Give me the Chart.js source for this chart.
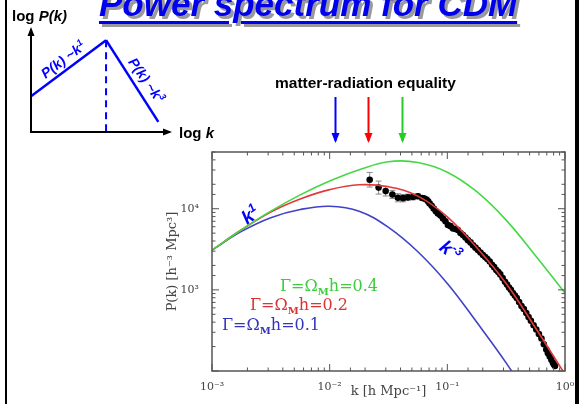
<!DOCTYPE html>
<html>
<head>
<meta charset="utf-8">
<script src="https://cdn.jsdelivr.net/npm/chart.js@4.4.1/dist/chart.umd.min.js"></script>
<style>
body { margin: 0; background: #fff; }
#wrap { position: relative; width: 582px; height: 404px; overflow: hidden; background: #fff; }
canvas { position: absolute; left: 0; top: 0; }
.lbl { position: absolute; white-space: nowrap; font-family: 'Liberation Sans', Arial, sans-serif; }
.frame { position: absolute; top: 0; height: 404px; background: #000; }
.gam { font-family: 'DejaVu Serif', serif; font-size: 16px; line-height: 16px; transform: translateY(-50%); }
.gam sub { font-size: 10px; font-weight: bold; vertical-align: -4px; }
</style>
</head>
<body>
<div id="wrap">
  <div class="frame" style="left:5px;width:2px"></div>
  <div class="frame" style="left:575px;width:4px"></div>
  <canvas id="main" width="582" height="404"></canvas>
  <canvas id="sketch" width="200" height="145"></canvas>

  <div class="lbl" style="left:99px;top:-13.6px;font-size:35px;line-height:35px;font-weight:bold;font-style:italic;color:#0000ee;text-decoration:underline;text-decoration-thickness:3px;text-underline-offset:5px;text-shadow:3px 3px 0 #9a9a9a">Power spectrum for CDM</div>
  <div class="lbl" style="left:12px;top:8px;font-size:15px;line-height:15px;font-weight:bold">log <i>P(k)</i></div>
  <div class="lbl" style="left:179px;top:125px;font-size:15px;line-height:15px;font-weight:bold">log <i>k</i></div>
  <div class="lbl" style="left:275px;top:75px;font-size:15.5px;line-height:15.5px;font-weight:bold">matter-radiation equality</div>
  <div class="lbl" style="left:62px;top:58px;font-size:14px;line-height:14px;font-weight:bold;font-style:italic;color:#0000ff;transform:translate(-50%,-50%) rotate(-37deg)">P(k) ~k<sup style="font-size:9px">1</sup></div>
  <div class="lbl" style="left:148px;top:79px;font-size:14px;line-height:14px;font-weight:bold;font-style:italic;color:#0000ff;transform:translate(-50%,-50%) rotate(55deg)">P(k) ~k<sup style="font-size:9px">3</sup></div>
  <div class="lbl" style="left:249px;top:213px;font-size:19px;line-height:19px;font-weight:bold;font-style:italic;color:#0000ff;transform:translate(-50%,-50%) rotate(-35deg)">k<sup style="font-size:12px">1</sup></div>
  <div class="lbl" style="left:452px;top:249px;font-size:19px;line-height:19px;font-weight:bold;font-style:italic;color:#0000ff;transform:translate(-50%,-50%) rotate(38deg)">k<sup style="font-size:12px">-3</sup></div>
  <div class="lbl gam" style="left:280px;top:289px;color:#3ccc3c">&Gamma;=&Omega;<sub>M</sub>h=0.4</div>
  <div class="lbl gam" style="left:250px;top:308px;color:#d83434">&Gamma;=&Omega;<sub>M</sub>h=0.2</div>
  <div class="lbl gam" style="left:222px;top:328px;color:#3434bb">&Gamma;=&Omega;<sub>M</sub>h=0.1</div>
</div>

<script>
// model curves at quarter-decade steps in k
var kGrid = [0.001, 0.00178, 0.00316, 0.00562, 0.01, 0.0178, 0.0316, 0.0562, 0.1, 0.178, 0.316, 0.562, 1.0];
var pGamma04 = [3090, 5500, 9330, 14800, 21900, 30200, 38000, 37150, 28200, 16200, 7240, 2630, 912];
var pGamma02 = [3090, 5500, 9120, 13180, 17180, 19720, 18620, 14290, 7940, 3310, 1200, 339, 91];
var pGamma01 = [3090, 5250, 7760, 9770, 10720, 9330, 5890, 2950, 1200, 398, 126, 35];

// measured points (black dots); the first ones carry error bars (dex)
var obsK = [0.02188, 0.02606, 0.02992, 0.03412, 0.03802, 0.04198, 0.04624, 0.05105, 0.05623, 0.06124,
            0.06637, 0.07079, 0.07656, 0.08318, 0.09183, 0.1012, 0.1117, 0.1230, 0.1358, 0.1496,
            0.1652, 0.1820, 0.2009, 0.2188, 0.2399, 0.2606, 0.2818, 0.3090, 0.3342, 0.3606,
            0.3890, 0.4266, 0.4688, 0.5129, 0.5702, 0.6310, 0.6934, 0.7413, 0.7889, 0.8222];
var obsP = [22750, 18200, 16480, 15000, 13650, 13490, 13800, 13960, 14220, 13580,
            12970, 11590, 10050, 8710, 7590, 6310, 5710, 5450, 4730, 4100,
            3550, 3090, 2690, 2400, 2040, 1760, 1550, 1260, 1070, 912,
            794, 631, 518, 417, 324, 251, 184, 151, 126, 115];
var obsErr = [0.09, 0.08, 0.06, 0.05, 0.05, 0.045, 0.04, 0.035, 0.03, 0.03, 0.025, 0.02, 0.02, 0.015];

// the denser run of points along the falling part
var obsK2 = [0.06383, 0.06871, 0.07362, 0.07980, 0.08750, 0.09638, 0.1064, 0.1175, 0.1294, 0.1426,
             0.1574, 0.1734, 0.1914, 0.2099, 0.2291, 0.2500, 0.2710, 0.2951, 0.3214, 0.3467,
             0.3750, 0.4074, 0.4467, 0.4898, 0.5408, 0.5998, 0.6607, 0.7161, 0.7656, 0.8054];
var obsP2 = [13340, 12300, 10840, 9330, 8222, 7000, 6095, 5623, 5012, 4416,
             3846, 3311, 2884, 2541, 2239, 1905, 1660, 1396, 1161, 1000,
             851, 708, 582, 462, 367, 285, 214, 166, 138, 120];

// matter-radiation equality arrows (blue, red, green)
var eqK = [0.011, 0.021, 0.041];
var eqColors = ['#0000ff', '#ff0000', '#22cc22'];

var xTickLabels = { '-3': '10\u207B\u00B3', '-2': '10\u207B\u00B2', '-1': '10\u207B\u00B9', '0': '10\u2070' };
var yTickLabels = { '3': '10\u00B3', '4': '10\u2074' };

// schematic in the upper left corner
var riseX = [0, 0.54], riseY = [0.35, 0.9];
var fallX = [0.54, 0.916], fallY = [0.9, 0.10];
var dashX = [0.54, 0.54], dashY = [0.9, 0];

function pts(xs, ys) {
    var out = [];
    for (var i = 0; i < ys.length; i++) out.push({ x: xs[i], y: ys[i] });
    return out;
}

function powLabel(map) {
    return function(v) {
        var e = Math.log10(v);
        var r = Math.round(e);
        if (Math.abs(e - r) < 1e-6 && map[String(r)]) return map[String(r)];
        return '';
    };
}

function arrow(ctx, x1, y1, x2, y2, head) {
    ctx.beginPath();
    ctx.moveTo(x1, y1);
    ctx.lineTo(x2, y2);
    ctx.stroke();
    var a = Math.atan2(y2 - y1, x2 - x1);
    ctx.beginPath();
    ctx.moveTo(x2 + Math.cos(a) * 2, y2 + Math.sin(a) * 2);
    ctx.lineTo(x2 - Math.cos(a) * head + Math.sin(a) * head * 0.5, y2 - Math.sin(a) * head - Math.cos(a) * head * 0.5);
    ctx.lineTo(x2 - Math.cos(a) * head - Math.sin(a) * head * 0.5, y2 - Math.sin(a) * head + Math.cos(a) * head * 0.5);
    ctx.closePath();
    ctx.fill();
}

var frameTicks = {
    id: 'frameTicks',
    beforeDatasetsDraw: function(chart) {
        // error bars under the dots
        var ctx = chart.ctx, xs = chart.scales.x, ys = chart.scales.y;
        ctx.save();
        ctx.strokeStyle = '#8a8a8a';
        ctx.lineWidth = 1;
        for (var i = 0; i < obsErr.length; i++) {
            var px = xs.getPixelForValue(obsK[i]);
            var hi = ys.getPixelForValue(obsP[i] * Math.pow(10, obsErr[i]));
            var lo = ys.getPixelForValue(obsP[i] / Math.pow(10, obsErr[i]));
            ctx.beginPath();
            ctx.moveTo(px, hi); ctx.lineTo(px, lo);
            ctx.moveTo(px - 3, hi); ctx.lineTo(px + 3, hi);
            ctx.moveTo(px - 3, lo); ctx.lineTo(px + 3, lo);
            ctx.stroke();
        }
        ctx.restore();
    },
    afterDraw: function(chart) {
        var ctx = chart.ctx, a = chart.chartArea;
        var xs = chart.scales.x, ys = chart.scales.y;
        ctx.save();
        ctx.strokeStyle = '#555';
        ctx.lineWidth = 1.5;
        ctx.strokeRect(a.left, a.top, a.right - a.left, a.bottom - a.top);
        ctx.lineWidth = 1;
        xs.ticks.forEach(function(t) {
            var e = Math.log10(t.value);
            var len = Math.abs(e - Math.round(e)) < 1e-6 ? 7 : 3.5;
            var px = xs.getPixelForValue(t.value);
            ctx.beginPath();
            ctx.moveTo(px, a.bottom); ctx.lineTo(px, a.bottom - len);
            ctx.moveTo(px, a.top); ctx.lineTo(px, a.top + len);
            ctx.stroke();
        });
        ys.ticks.forEach(function(t) {
            var e = Math.log10(t.value);
            var len = Math.abs(e - Math.round(e)) < 1e-6 ? 7 : 3.5;
            var py = ys.getPixelForValue(t.value);
            ctx.beginPath();
            ctx.moveTo(a.left, py); ctx.lineTo(a.left + len, py);
            ctx.moveTo(a.right, py); ctx.lineTo(a.right - len, py);
            ctx.stroke();
        });
        // equality arrows above the plot
        ctx.lineWidth = 2;
        eqK.forEach(function(k, i) {
            var px = Math.round(xs.getPixelForValue(k)) + 0.5;
            ctx.strokeStyle = eqColors[i];
            ctx.fillStyle = eqColors[i];
            arrow(ctx, px, 97, px, 141, 8);
        });
        ctx.restore();
    }
};

var lineStyle = { showLine: true, pointRadius: 0, borderWidth: 1.6, fill: false, tension: 0.4 };

new Chart(document.getElementById('main'), {
    type: 'scatter',
    data: {
        datasets: [
            Object.assign({ label: 'Gamma 0.4', data: pts(kGrid, pGamma04), borderColor: '#45d845' }, lineStyle),
            Object.assign({ label: 'Gamma 0.2', data: pts(kGrid, pGamma02), borderColor: '#e23a3a' }, lineStyle),
            Object.assign({ label: 'Gamma 0.1', data: pts(kGrid, pGamma01), borderColor: '#4040c8' }, lineStyle),
            { label: 'data', data: pts(obsK, obsP).concat(pts(obsK2, obsP2)), pointRadius: 3.3, pointBackgroundColor: '#000', pointBorderWidth: 0, showLine: false }
        ]
    },
    options: {
        responsive: false,
        animation: false,
        layout: { padding: { left: 160, top: 152, right: 17, bottom: 0 } },
        plugins: { legend: { display: false }, tooltip: { enabled: false } },
        scales: {
            x: {
                type: 'logarithmic', min: 0.001, max: 1,
                grid: { display: false }, border: { display: false },
                afterFit: function(s) { s.height = 33; },
                ticks: { autoSkip: false, maxRotation: 0, padding: 2, color: '#444',
                         font: { family: 'DejaVu Serif', size: 11 }, callback: powLabel(xTickLabels) },
                title: { display: true, text: 'k [h Mpc\u207B\u00B9]', color: '#444',
                         font: { family: 'DejaVu Serif', size: 13 }, padding: { top: 0, bottom: 5 } }
            },
            y: {
                type: 'logarithmic', min: 100, max: 50000,
                grid: { display: false }, border: { display: false },
                afterFit: function(s) { s.width = 52; },
                ticks: { autoSkip: false, padding: 5, color: '#444',
                         font: { family: 'DejaVu Serif', size: 11 }, callback: powLabel(yTickLabels) },
                title: { display: true, text: 'P(k) [h\u207B\u00B3 Mpc\u00B3]', color: '#444',
                         font: { family: 'DejaVu Serif', size: 13 }, padding: { top: 5, bottom: 0 } }
            }
        }
    },
    plugins: [frameTicks]
});

var sketchAxes = {
    id: 'sketchAxes',
    afterDraw: function(chart) {
        var ctx = chart.ctx, xs = chart.scales.x, ys = chart.scales.y;
        var x0 = xs.getPixelForValue(0), y0 = ys.getPixelForValue(0);
        ctx.save();
        ctx.strokeStyle = '#000';
        ctx.fillStyle = '#000';
        ctx.lineWidth = 2;
        arrow(ctx, x0, y0 + 1, x0, ys.getPixelForValue(1) - 1, 7);
        arrow(ctx, x0 - 1, y0, xs.getPixelForValue(1), y0, 7);
        ctx.restore();
    }
};

var sketchLine = { showLine: true, pointRadius: 0, borderColor: '#0000ff', borderWidth: 2.5, fill: false };

new Chart(document.getElementById('sketch'), {
    type: 'scatter',
    data: {
        datasets: [
            Object.assign({ data: pts(riseX, riseY) }, sketchLine),
            Object.assign({ data: pts(fallX, fallY) }, sketchLine),
            Object.assign({ data: pts(dashX, dashY), borderDash: [7, 5], borderWidth: 2 }, { showLine: true, pointRadius: 0, borderColor: '#0000ff' })
        ]
    },
    options: {
        responsive: false,
        animation: false,
        layout: { padding: { left: 31, top: 30, right: 30, bottom: 13 } },
        plugins: { legend: { display: false }, tooltip: { enabled: false } },
        scales: {
            x: { type: 'linear', min: 0, max: 1, display: false },
            y: { type: 'linear', min: 0, max: 1, display: false }
        }
    },
    plugins: [sketchAxes]
});
</script>
</body>
</html>
